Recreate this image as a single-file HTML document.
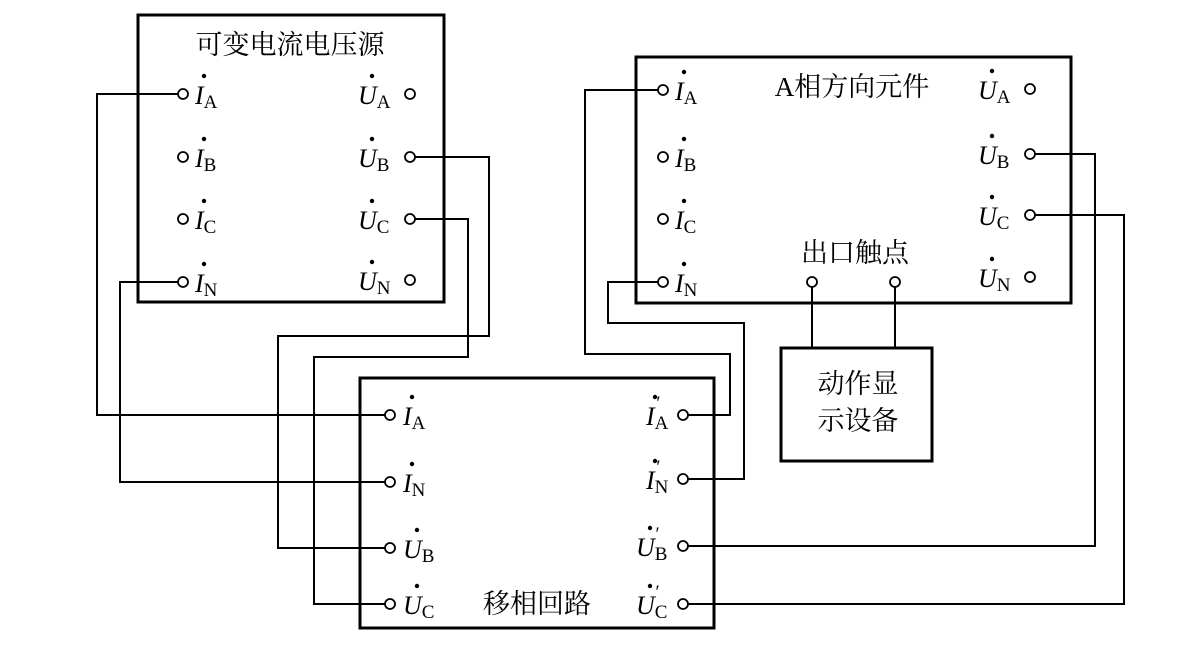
<!DOCTYPE html>
<html><head><meta charset="utf-8"><style>body{margin:0;background:#fff}svg{display:block}
.t{font-family:"Liberation Serif",serif;font-size:26px;font-style:italic}
.s{font-family:"Liberation Serif",serif;font-size:19px;font-style:normal}
.c{font-family:"Liberation Serif","Noto Serif CJK SC",serif;font-size:27px}
</style></head><body>
<svg width="1203" height="654" viewBox="0 0 1203 654" xmlns="http://www.w3.org/2000/svg">
<g fill="none" stroke="#000">
<rect x="138" y="15" width="306" height="287" stroke-width="3"/>
<rect x="636" y="57" width="435" height="246" stroke-width="3"/>
<rect x="781" y="348" width="151" height="113" stroke-width="3"/>
<rect x="360" y="378" width="354" height="250" stroke-width="3"/>
<g stroke-width="2">
<polyline points="178,94 97,94 97,415 385,415"/>
<polyline points="178,282 120,282 120,482 385,482"/>
<polyline points="415,157 489,157 489,336 278,336 278,548 385,548"/>
<polyline points="415,219 468,219 468,357 314,357 314,604 385,604"/>
<polyline points="658,90 585,90 585,354 730,354 730,415 688,415"/>
<polyline points="658,282 608,282 608,323 744,323 744,479 688,479"/>
<polyline points="1035,154 1095,154 1095,546 688,546"/>
<polyline points="1035,215 1124,215 1124,604 688,604"/>
<line x1="812" y1="287" x2="812" y2="348"/>
<line x1="895" y1="287" x2="895" y2="348"/>
</g>
<g stroke-width="1.8">
<circle cx="183" cy="94" r="5"/><circle cx="183" cy="157" r="5"/><circle cx="183" cy="219" r="5"/><circle cx="183" cy="282" r="5"/>
<circle cx="410" cy="94" r="5"/><circle cx="410" cy="157" r="5"/><circle cx="410" cy="219" r="5"/><circle cx="410" cy="280" r="5"/>
<circle cx="663" cy="90" r="5"/><circle cx="663" cy="157" r="5"/><circle cx="663" cy="219" r="5"/><circle cx="663" cy="282" r="5"/>
<circle cx="1030" cy="89" r="5"/><circle cx="1030" cy="154" r="5"/><circle cx="1030" cy="215" r="5"/><circle cx="1030" cy="277" r="5"/>
<circle cx="812" cy="282" r="5"/><circle cx="895" cy="282" r="5"/>
<circle cx="390" cy="415" r="5"/><circle cx="390" cy="482" r="5"/><circle cx="390" cy="548" r="5"/><circle cx="390" cy="604" r="5"/>
<circle cx="683" cy="415" r="5"/><circle cx="683" cy="479" r="5"/><circle cx="683" cy="546" r="5"/><circle cx="683" cy="604" r="5"/>
</g></g>
<g class="c">
<text x="290" y="54" text-anchor="middle">可变电流电压源</text>
<text x="852" y="96" text-anchor="middle">A相方向元件</text>
<text x="855" y="262" text-anchor="middle">出口触点</text>
<text x="858" y="393" text-anchor="middle">动作显</text>
<text x="858" y="430" text-anchor="middle">示设备</text>
<text x="537" y="613" text-anchor="middle">移相回路</text>
</g>
<g class="t">
<!-- box1 left -->
<text x="195" y="104">I<tspan class="s" dy="4">A</tspan></text>
<text x="195" y="167">I<tspan class="s" dy="4">B</tspan></text>
<text x="195" y="229">I<tspan class="s" dy="4">C</tspan></text>
<text x="195" y="292">I<tspan class="s" dy="4">N</tspan></text>
<!-- box1 right -->
<text x="358" y="104">U<tspan class="s" dy="4">A</tspan></text>
<text x="358" y="167">U<tspan class="s" dy="4">B</tspan></text>
<text x="358" y="229">U<tspan class="s" dy="4">C</tspan></text>
<text x="358" y="290">U<tspan class="s" dy="4">N</tspan></text>
<!-- box2 left -->
<text x="675" y="100">I<tspan class="s" dy="4">A</tspan></text>
<text x="675" y="167">I<tspan class="s" dy="4">B</tspan></text>
<text x="675" y="229">I<tspan class="s" dy="4">C</tspan></text>
<text x="675" y="292">I<tspan class="s" dy="4">N</tspan></text>
<!-- box2 right -->
<text x="978" y="99">U<tspan class="s" dy="4">A</tspan></text>
<text x="978" y="164">U<tspan class="s" dy="4">B</tspan></text>
<text x="978" y="225">U<tspan class="s" dy="4">C</tspan></text>
<text x="978" y="287">U<tspan class="s" dy="4">N</tspan></text>
<!-- box4 left -->
<text x="403" y="425">I<tspan class="s" dy="4">A</tspan></text>
<text x="403" y="492">I<tspan class="s" dy="4">N</tspan></text>
<text x="403" y="558">U<tspan class="s" dy="4">B</tspan></text>
<text x="403" y="614">U<tspan class="s" dy="4">C</tspan></text>
<!-- box4 right -->
<text x="646" y="425">I<tspan class="s" dy="4">A</tspan><tspan class="s" dx="-12" dy="-20">′</tspan></text>
<text x="646" y="489">I<tspan class="s" dy="4">N</tspan><tspan class="s" dx="-12" dy="-20">′</tspan></text>
<text x="636" y="556">U<tspan class="s" dy="4">B</tspan><tspan class="s" dx="-12" dy="-20">′</tspan></text>
<text x="636" y="614">U<tspan class="s" dy="4">C</tspan><tspan class="s" dx="-12" dy="-20">′</tspan></text>
</g>
<g fill="#000">
<circle cx="204" cy="76" r="2.2"/><circle cx="204" cy="139" r="2.2"/><circle cx="204" cy="201" r="2.2"/><circle cx="204" cy="264" r="2.2"/>
<circle cx="372" cy="76" r="2.2"/><circle cx="372" cy="139" r="2.2"/><circle cx="372" cy="201" r="2.2"/><circle cx="372" cy="262" r="2.2"/>
<circle cx="684" cy="72" r="2.2"/><circle cx="684" cy="139" r="2.2"/><circle cx="684" cy="201" r="2.2"/><circle cx="684" cy="264" r="2.2"/>
<circle cx="992" cy="71" r="2.2"/><circle cx="992" cy="136" r="2.2"/><circle cx="992" cy="197" r="2.2"/><circle cx="992" cy="259" r="2.2"/>
<circle cx="412" cy="397" r="2.2"/><circle cx="412" cy="464" r="2.2"/><circle cx="417" cy="530" r="2.2"/><circle cx="417" cy="586" r="2.2"/>
<circle cx="655" cy="397" r="2.2"/><circle cx="655" cy="461" r="2.2"/><circle cx="650" cy="528" r="2.2"/><circle cx="650" cy="586" r="2.2"/>
</g>
</svg>
</body></html>
